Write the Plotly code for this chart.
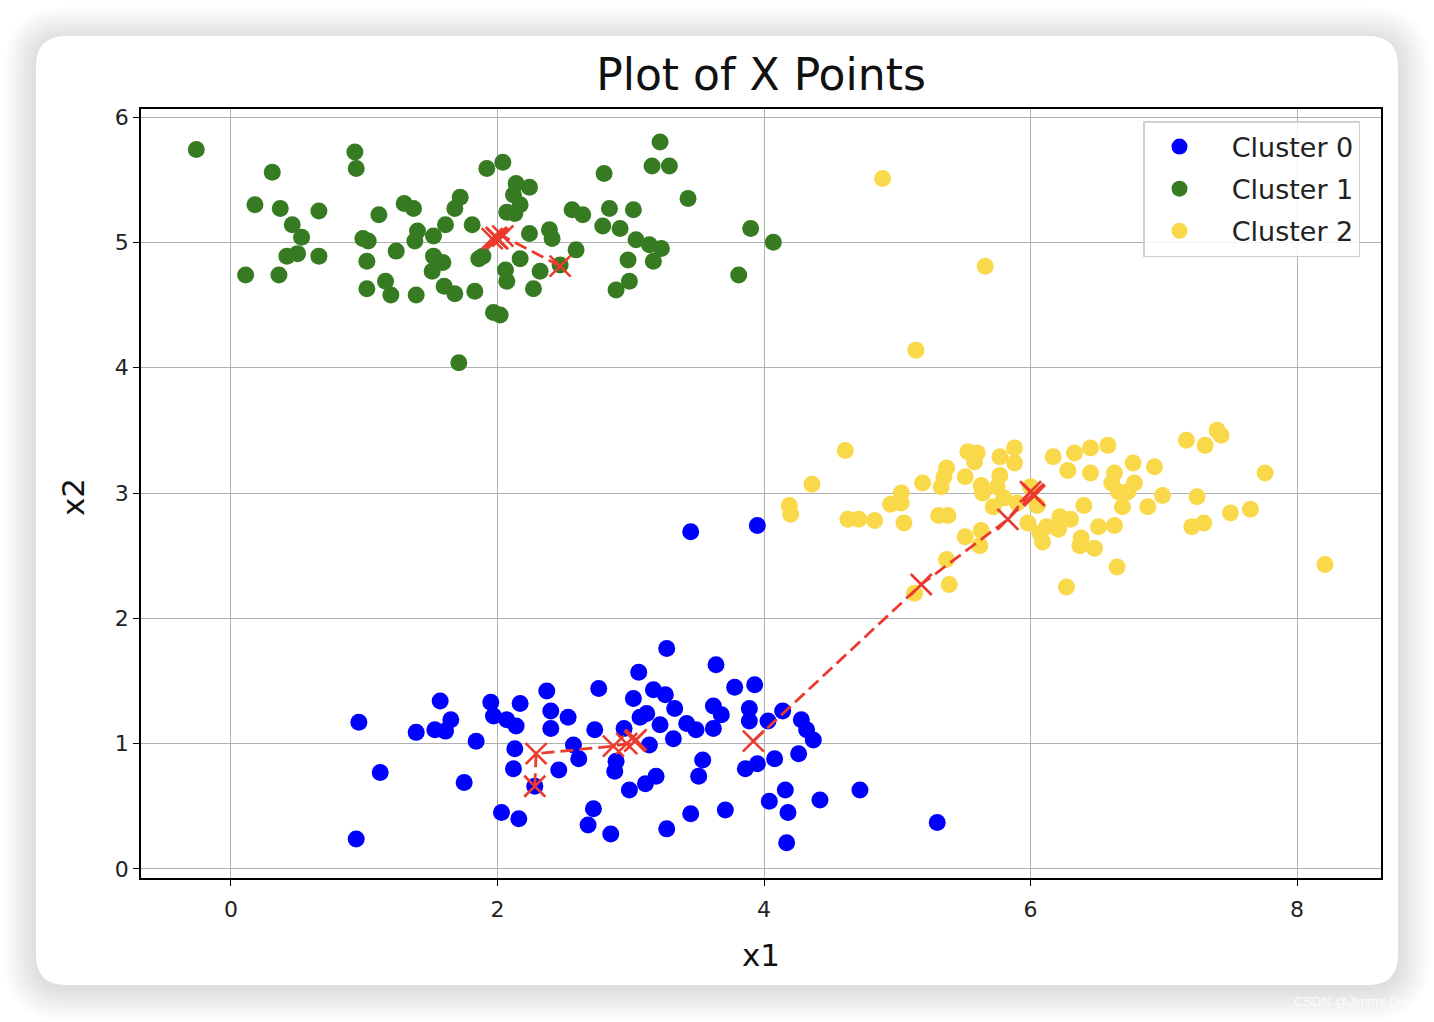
import plotly.graph_objects as go

# ---------------- data ----------------
cluster0_x = [0.96, 1.12, 0.94, 1.57, 1.39, 1.53, 1.61, 1.65, 1.84, 1.75, 1.95, 1.97, 2.07, 2.14, 2.17, 2.37, 2.40, 2.40,
              2.53, 2.13, 2.12, 2.46, 2.03, 2.16, 2.72, 2.68, 2.85, 2.76, 2.73, 2.57, 2.61, 3.06, 3.02, 2.88, 2.99, 3.11,
              3.07, 2.28, 3.27, 3.64, 3.78, 3.93, 3.17, 3.26, 3.33, 3.62, 3.68, 3.89, 3.12, 3.22, 3.42, 3.49, 3.62, 3.89,
              3.32, 3.14, 4.03, 4.14, 4.28, 4.32, 4.37, 4.26, 4.08, 3.95, 3.86, 3.54, 3.51, 3.19, 4.16, 4.04, 4.18, 4.42,
              4.72, 5.30, 4.17, 3.45, 3.71, 3.27, 3.45, 3.95, 2.89, 2.95]
cluster0_y = [1.17, 0.77, 0.24, 1.34, 1.09, 1.11, 1.10, 1.19, 1.02, 0.69, 1.33, 1.22, 1.19, 1.14, 1.32, 1.42, 1.26, 1.12,
              1.21, 0.96, 0.80, 0.79, 0.45, 0.40, 0.48, 0.35, 0.28, 1.44, 1.11, 0.99, 0.88, 1.57, 1.36, 0.78, 0.63, 0.68,
              1.21, 0.66, 1.76, 1.63, 1.45, 1.47, 1.43, 1.39, 1.28, 1.30, 1.23, 1.28, 1.24, 1.15, 1.16, 1.11, 1.12, 1.18,
              1.04, 0.99, 1.18, 1.26, 1.19, 1.11, 1.03, 0.92, 0.88, 0.84, 0.80, 0.87, 0.74, 0.74, 0.63, 0.54, 0.45, 0.55,
              0.63, 0.37, 0.21, 0.44, 0.47, 0.32, 2.69, 2.74, 0.86, 1.12]

cluster1_x = [-0.26, 0.31, 0.93, 0.94, 1.92, 0.18, 0.37, 0.66, 0.46, 0.53, 0.50, 0.42, 0.66, 0.11, 0.36, 1.11, 0.99, 1.03,
              1.02, 1.02, 1.16, 1.20, 1.39, 1.24, 1.30, 1.37, 1.40, 1.38, 1.52, 1.61, 1.52, 1.59, 1.51, 1.60, 1.68, 1.83,
              1.68, 1.72, 1.81, 1.86, 1.97, 1.71, 2.04, 2.14, 2.24, 2.12, 2.17, 2.07, 2.13, 2.24, 2.39, 2.41, 2.17, 1.89,
              2.06, 2.07, 2.32, 2.27, 2.47, 2.59, 2.02, 2.56, 2.64, 2.80, 2.84, 3.02, 2.79, 2.92, 3.04, 3.14, 3.23, 3.17,
              2.98, 2.99, 2.89, 3.22, 3.16, 3.29, 3.43, 3.90, 4.07, 3.81]
cluster1_y = [5.74, 5.56, 5.72, 5.59, 5.59, 5.30, 5.27, 5.25, 5.14, 5.04, 4.91, 4.89, 4.89, 4.74, 4.74, 5.22, 5.03, 5.01,
              4.85, 4.63, 4.69, 4.58, 4.58, 4.93, 5.31, 5.27, 5.09, 5.01, 5.05, 5.14, 4.89, 4.84, 4.77, 4.65, 4.59, 4.61,
              5.27, 5.36, 5.14, 4.87, 4.44, 4.04, 5.64, 5.47, 5.44, 5.38, 5.30, 5.24, 5.23, 5.07, 5.10, 5.03, 4.87, 4.89,
              4.78, 4.69, 4.77, 4.63, 4.82, 4.94, 4.42, 5.26, 5.22, 5.55, 5.27, 5.26, 5.13, 5.11, 5.02, 4.98, 4.95, 4.85,
              4.86, 4.69, 4.62, 5.80, 5.61, 5.61, 5.35, 5.11, 5.00, 4.74]

cluster2_x = [4.61, 4.36, 4.19, 4.20, 4.63, 4.71, 4.83, 4.95, 5.03, 5.03, 5.05, 5.19, 5.31, 5.38, 5.33, 5.37, 5.35, 5.51,
              5.53, 5.60, 5.58, 5.63, 5.64, 5.77, 5.88, 5.88, 5.77, 5.75, 5.72, 5.80, 5.90, 5.51, 5.63, 5.62, 5.37, 5.39,
              5.13, 5.98, 6.07, 6.09, 6.17, 6.12, 6.33, 6.28, 6.45, 6.58, 6.45, 6.63, 6.61, 6.77, 6.93, 6.78, 6.66, 6.73,
              6.99, 7.25, 7.17, 7.31, 7.40, 7.43, 7.76, 8.21, 6.40, 6.69, 6.88, 7.50, 7.65, 7.21, 7.30, 6.63, 6.51, 6.22,
              6.30, 6.21, 6.38, 6.37, 6.48, 6.65, 6.27, 4.89, 5.66, 5.14, 6.00, 6.05]
cluster2_y = [3.34, 3.07, 2.90, 2.83, 2.79, 2.79, 2.78, 2.91, 3.00, 2.92, 2.76, 3.08, 2.82, 2.82, 3.05, 3.20, 3.13, 3.13,
              3.33, 3.32, 3.25, 3.06, 3.00, 3.29, 3.36, 3.24, 3.14, 3.05, 2.89, 2.96, 2.92, 2.65, 2.70, 2.58, 2.47, 2.27,
              2.20, 2.76, 2.68, 2.61, 3.29, 2.73, 3.32, 3.18, 3.36, 3.38, 3.16, 3.16, 3.08, 3.24, 3.21, 3.08, 3.01, 3.01,
              2.98, 2.97, 3.42, 3.38, 3.50, 3.46, 3.16, 2.43, 2.90, 2.89, 2.89, 2.84, 2.87, 2.73, 2.76, 2.74, 2.73, 2.81,
              2.79, 2.71, 2.64, 2.58, 2.56, 2.41, 2.25, 5.51, 4.81, 4.14, 3.05, 2.90]

# centroid history (per iteration)
centroid0_x = [2.28, 2.29, 2.87, 2.97, 3.04, 3.03]
centroid0_y = [0.66, 0.92, 0.98, 1.00, 1.03, 1.02]
centroid1_x = [2.47, 2.04, 1.96, 1.99, 2.00, 2.00]
centroid1_y = [4.81, 5.05, 5.03, 5.04, 5.03, 5.03]
centroid2_x = [3.92, 5.18, 5.83, 6.00, 6.03, 6.02]
centroid2_y = [1.02, 2.27, 2.79, 3.01, 2.98, 2.99]

cluster_names = ["Cluster 0", "Cluster 1", "Cluster 2"]
cluster_colors = ["#0000ff", "#367b21", "#f9d84a"]
x_ticks = [0, 2, 4, 6, 8]
y_ticks = [0, 1, 2, 3, 4, 5, 6]

# ---------------- geometry helpers ----------------
W, H = 1434, 1022
L, R, T, B = 141, 1381, 109, 878


def fx(px):
    return (px - L) / (R - L)


def fy(py):
    return (B - py) / (B - T)


def rrect(x0, y0, x1, y1, r):
    p = []
    p.append(f"M {fx(x0 + r)} {fy(y0)}")
    p.append(f"L {fx(x1 - r)} {fy(y0)}")
    p.append(f"Q {fx(x1)} {fy(y0)} {fx(x1)} {fy(y0 + r)}")
    p.append(f"L {fx(x1)} {fy(y1 - r)}")
    p.append(f"Q {fx(x1)} {fy(y1)} {fx(x1 - r)} {fy(y1)}")
    p.append(f"L {fx(x0 + r)} {fy(y1)}")
    p.append(f"Q {fx(x0)} {fy(y1)} {fx(x0)} {fy(y1 - r)}")
    p.append(f"L {fx(x0)} {fy(y0 + r)}")
    p.append(f"Q {fx(x0)} {fy(y0)} {fx(x0 + r)} {fy(y0)}")
    p.append("Z")
    return " ".join(p)


shapes = []
# soft shadow
for i in range(16, 0, -1):
    e = i * 2
    shapes.append(dict(type="path", xref="paper", yref="paper", layer="below",
                       path=rrect(36 - e, 36 - e + 3, 1398 + e, 985 + e + 3, 30 + e),
                       fillcolor="rgba(0,0,0,0.009)", line=dict(width=0)))
# card
shapes.append(dict(type="path", xref="paper", yref="paper", layer="below",
                   path=rrect(36, 36, 1398, 985, 30),
                   fillcolor="white", line=dict(width=0)))

fig = go.Figure()

cx = [cluster0_x, cluster1_x, cluster2_x]
cy = [cluster0_y, cluster1_y, cluster2_y]
for i in range(3):
    fig.add_trace(go.Scatter(
        x=cx[i], y=cy[i], mode="markers", name="\u00a0\u00a0" + cluster_names[i],
        legendgroup=f"g{i}",
        marker=dict(color=cluster_colors[i], size=17, line=dict(width=0)),
    ))

red = "#eb3a2e"
for hx, hy in [(centroid0_x, centroid0_y), (centroid1_x, centroid1_y), (centroid2_x, centroid2_y)]:
    fig.add_trace(go.Scatter(
        x=hx, y=hy, mode="lines+markers", showlegend=False,
        line=dict(color=red, width=2.8, dash="13px,6px"),
        marker=dict(symbol="x-thin", size=21, color=red, line=dict(color=red, width=2.6)),
    ))

font_family = "DejaVu Sans"
axis_common = dict(
    showgrid=True, gridcolor="#b0b0b0", gridwidth=1.3, zeroline=False,
    showline=True, linecolor="black", linewidth=1.6, mirror=True,
    ticks="outside", ticklen=6, tickwidth=1.4, tickcolor="black",
    tickfont=dict(family=font_family, size=22, color="#222"),
)

fig.update_layout(
    width=W, height=H,
    margin=dict(l=L, r=W - R, t=T, b=H - B, pad=0),
    paper_bgcolor="white", plot_bgcolor="rgba(0,0,0,0)",
    shapes=shapes,
    xaxis=dict(range=[-0.675, 8.63], tickvals=x_ticks, ticktext=[str(v) for v in x_ticks],
               ticklabelstandoff=5, **axis_common),
    yaxis=dict(range=[-0.072, 6.064], tickvals=y_ticks, ticktext=[str(v) for v in y_ticks], **axis_common),
    title=dict(text="Plot of X Points", x=fx(761), xref="paper", xanchor="center",
               y=1 - 75 / H, yref="container", yanchor="middle",
               font=dict(family=font_family, size=44, color="#111")),
    legend=dict(x=fx(1143), y=fy(121), xanchor="left", yanchor="top",
                bgcolor="rgba(255,255,255,0.85)", bordercolor="#d0d0d0", borderwidth=1.5,
                font=dict(family=font_family, size=27, color="#222"),
                traceorder="grouped", tracegroupgap=4, itemwidth=60),
    annotations=[
        dict(text="x1", x=fx(761), y=fy(955), xref="paper", yref="paper", showarrow=False,
             xanchor="center", yanchor="middle", font=dict(family=font_family, size=31, color="#111")),
        dict(text="x2", x=fx(73), y=fy(497), xref="paper", yref="paper", showarrow=False, textangle=-90,
             xanchor="center", yanchor="middle", font=dict(family=font_family, size=31, color="#111")),
        dict(text="CSDN @Jimmy Ding", x=fx(1355), y=fy(1002), xref="paper", yref="paper", showarrow=False,
             xanchor="center", yanchor="middle", font=dict(family="Liberation Sans", size=13, color="rgba(255,255,255,0.9)")),
    ],
)

fig.write_html("out.html")
